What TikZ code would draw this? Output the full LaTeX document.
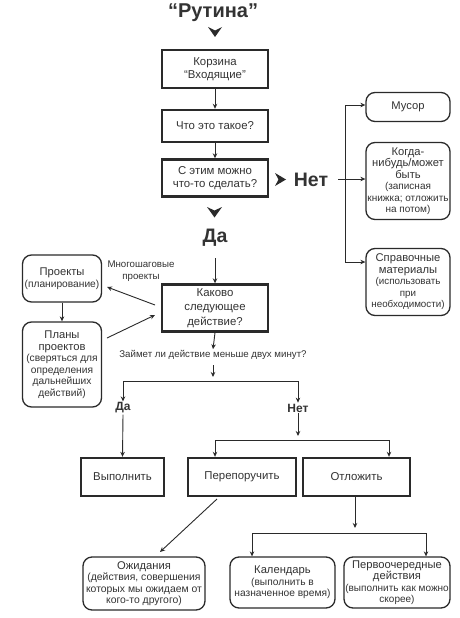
\documentclass[tikz,border=0pt]{standalone}
\usepackage{fontspec}
\setmainfont{Liberation Sans}
\usetikzlibrary{arrows.meta}
\definecolor{ink}{HTML}{2A2A2A}
\definecolor{txt}{HTML}{333333}
\newcommand\sm[1]{{\fontsize{10.2}{11}\selectfont #1}}
\newcommand\smk[1]{{\fontsize{10}{11}\selectfont #1}}
\newcommand\sms[1]{{\fontsize{9.8}{11}\selectfont #1}}
\newcommand\smf[1]{{\fontsize{10}{11}\selectfont #1}}
\newcommand\smw[1]{{\fontsize{10.4}{10.5}\selectfont #1}}
\begin{document}
\begin{tikzpicture}[x=1pt,y=-1pt,
  sqbox/.style={draw=ink, line width=2.4pt, align=center, text=txt, font=\fontsize{11.4}{13.5}\selectfont, inner sep=1pt},
  rbox/.style={draw=ink, line width=1.3pt, rounded corners=9pt, align=center, text=txt, font=\fontsize{11.2}{11.5}\selectfont, inner sep=1pt},
  arr/.style={draw=ink, line width=0.9pt, -{Stealth[length=5pt,width=4.5pt]}},
  ln/.style={draw=ink, line width=0.9pt},
  big/.style={font=\fontsize{19.5}{22}\bfseries\selectfont, text=txt, inner sep=0pt},
  lab/.style={font=\fontsize{9.7}{12}\selectfont, text=txt, inner sep=1pt, align=center},
  yn/.style={font=\fontsize{12}{14}\bfseries\selectfont, text=txt, inner sep=1pt},
  tri/.style={fill=ink}]
\useasboundingbox (0,0) rectangle (460,618);
\fill[white] (0,0) rectangle (460,618);

% title
\node[big, font=\fontsize{20}{23}\bfseries\selectfont] (title) at (213,13) {“Рутина”};
\fill[tri] (208,27) -- (215,30.5) -- (222,27) -- (215,37) -- cycle;

% main column
\node[sqbox, minimum width=106pt, minimum height=38pt] (in) at (215,69) {Корзина\\“Входящие”};
\node[sqbox, minimum width=106pt, minimum height=32pt] (what) at (215,126) {Что это такое?};
\node[sqbox, minimum width=106pt, minimum height=37pt] (can) at (215,178) {С этим можно\\что-то сделать?};
\draw[arr] (in.south) -- (what.north);
\draw[arr] (what.south) -- (can.north);

% Нет branch
\fill[tri] (275,173) -- (278.5,179.5) -- (275,186) -- (286,179.5) -- cycle;
\node[big] (net) at (311,180) {Нет};
\node[rbox, minimum width=84pt, minimum height=29pt] (musor) at (408,107) {Мусор};
\node[rbox, minimum width=84pt, minimum height=77pt] (kogda) at (408,181)
  {Когда-\\нибудь/может\\быть\\\smk{(записная}\\\smk{книжка; отложить}\\\smk{на потом)}};
\node[rbox, minimum width=84pt, minimum height=67pt] (sprav) at (408,282)
  {Справочные\\материалы\\\sms{(использовать}\\\sms{при}\\\sms{необходимости)}};
\coordinate (busT) at (345,105);
\coordinate (busB) at (345,262);
\coordinate (netR) at (338,179);
\draw[ln] (busB) -- (busT);
\draw[arr] (busT) -- (busT -| musor.west);
\draw[arr] (netR) -- (netR -| kogda.west);
\draw[arr] (busB) -- (busB -| sprav.west);

% Да
\fill[tri] (207,207) -- (214.5,210.5) -- (222,207) -- (214.5,217.5) -- cycle;
\node[big] (da) at (215,238) {Да};
\node[sqbox, minimum width=106pt, minimum height=47pt, font=\fontsize{11.4}{14.5}\selectfont] (next) at (215,308) {Каково\\следующее\\действие?};
\coordinate (daB) at (215,258);
\draw[arr] (daB) -- (next.north);

% projects
\node[rbox, minimum width=79pt, minimum height=47pt] (proj) at (62,278.5) {Проекты\\\sm{(планирование)}};
\node[rbox, minimum width=79pt, minimum height=85pt] (plans) at (62,364.5)
  {Планы\\проектов\\\sm{(сверяться для}\\\sm{определения}\\\sm{дальнейших}\\\sm{действий)}};
\draw[arr] (proj.south) -- (plans.north);
\node[lab] (mlab) at (141,271) {Многошаговые\\проекты};
\coordinate (nL1) at (155,305);
\coordinate (nL2) at (155,315);
\coordinate (pR1) at (107,287);
\coordinate (pR2) at (107,338);
\draw[arr] (nL1) -- (pR1);
\draw[arr] (pR2) -- (nL2);

% two-minute question
\node[lab] (q) at (213,355) {Займет ли действие меньше двух минут?};
\draw[arr] (next.south) -- (q.north);
\coordinate (qB) at (213,365);
\coordinate (qbar) at (213,377);
\coordinate (hL) at (123,381);
\coordinate (hR) at (298,381);
\draw[arr] (qB) -- (qbar);
\node[yn] (da2) at (123,408) {Да};
\node[yn] (net2) at (298,408) {Нет};
\draw[ln] (hL) -- (hR);
\draw[arr] (hL) -- (da2.north);
\draw[arr] (hR) -- (net2.north);

\node[sqbox, minimum width=83pt, minimum height=38pt] (do) at (122.5,477) {Выполнить};
\node[sqbox, minimum width=108pt, minimum height=38pt] (deleg) at (242,477) {Перепоручить};
\node[sqbox, minimum width=107pt, minimum height=38pt] (defer) at (356.5,477) {Отложить};
\draw[arr] (da2.south) -- (do.north);
\coordinate (n2B) at (298,436);
\coordinate (h2L) at (215,440);
\coordinate (h2R) at (389,440);
\draw[arr] (net2.south) -- (n2B);
\draw[ln] (h2L) -- (h2R);
\draw[arr] (h2L) -- (h2L |- deleg.north);
\draw[arr] (h2R) -- (h2R |- defer.north);

% bottom row
\node[rbox, minimum width=122pt, minimum height=53pt] (wait) at (144,583.5)
  {Ожидания\\\smw{(действия, совершения}\\\smw{которых мы ожидаем от}\\\smw{кого-то другого)}};
\node[rbox, minimum width=105pt, minimum height=51pt] (cal) at (282.5,582.5)
  {Календарь\\\sm{(выполнить в}\\\sm{назначенное время)}};
\node[rbox, minimum width=106pt, minimum height=51pt] (first) at (397,582.5)
  {Первоочередные\\действия\\\smf{(выполнить как можно}\\\smf{скорее)}};
\coordinate (dgS) at (217,499);
\coordinate (wT) at (160,552);
\draw[arr] (dgS) -- (wT);
\coordinate (dfB) at (355,528);
\coordinate (h3L) at (252,533);
\coordinate (h3R) at (426,533);
\draw[arr] (defer.south -| dfB) -- (dfB);
\draw[ln] (h3L) -- (h3R);
\draw[arr] (h3L) -- (h3L |- cal.north);
\draw[arr] (h3R) -- (h3R |- first.north);
\end{tikzpicture}
\end{document}
